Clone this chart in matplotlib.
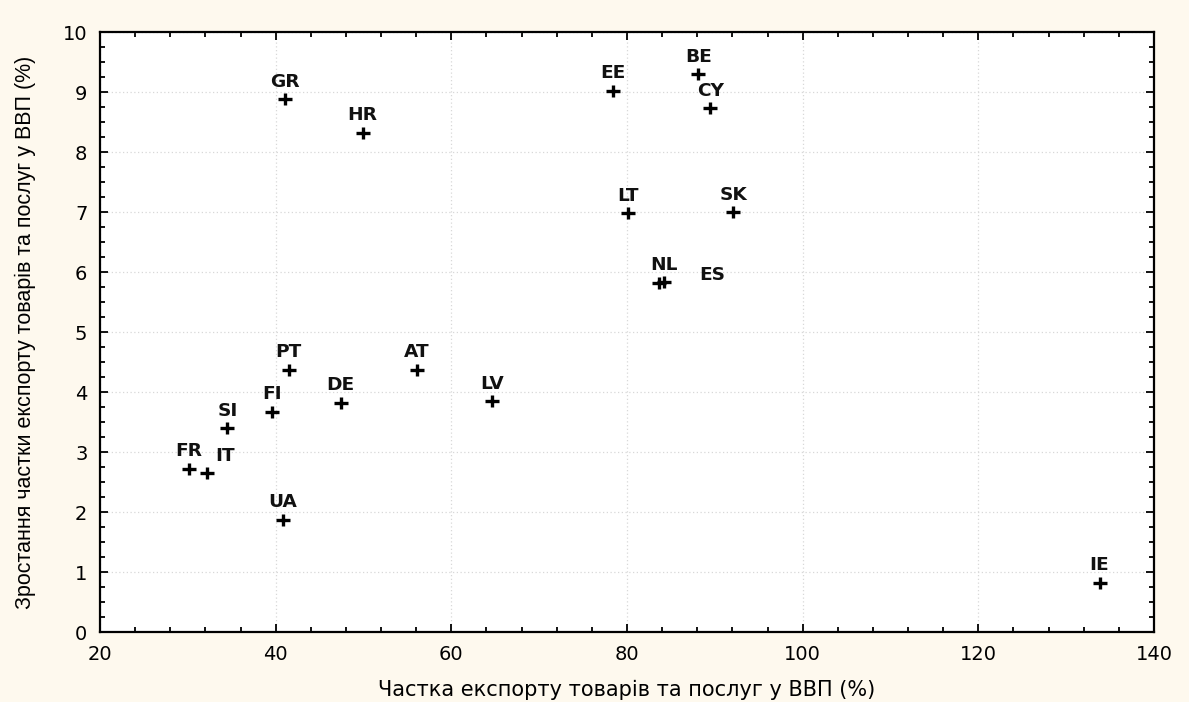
import matplotlib
matplotlib.use("Agg")
import matplotlib.pyplot as plt
from matplotlib.path import Path
from matplotlib.ticker import MultipleLocator

# export share of GDP (%) vs growth of export share (%)
countries = ["GR", "HR", "EE", "BE", "CY", "LT", "SK", "NL", "ES", "PT", "AT",
             "DE", "LV", "FI", "SI", "FR", "IT", "UA", "IE"]
export_share = [41.1, 49.9, 78.4, 88.1, 89.5, 80.1, 92.1, 83.6, 84.2, 41.5, 56.1,
                47.4, 64.6, 39.6, 34.5, 30.1, 32.2, 40.8, 133.8]
share_growth = [8.88, 8.32, 9.02, 9.30, 8.73, 6.98, 7.00, 5.82, 5.83, 4.37, 4.37,
                3.82, 3.85, 3.67, 3.40, 2.72, 2.65, 1.87, 0.82]

# label offsets in points (default: centred above the marker)
label_offset = {"NL": (4, 13), "ES": (35, 5), "IT": (13, 12)}

# plus sign, a bit wider than tall (like the original)
plus = Path([(-1.25, 0), (1.25, 0), (0, -1), (0, 1)],
            [Path.MOVETO, Path.LINETO, Path.MOVETO, Path.LINETO])

bg = "#fef9ee"
fig = plt.figure(figsize=(11.89, 7.02), dpi=100, facecolor=bg)
ax = fig.add_axes([100 / 1189, 70 / 702, 1054 / 1189, 600 / 702])
ax.set_facecolor("white")

ax.scatter(export_share, share_growth, marker=plus, s=115, linewidths=2.4,
           color="black", zorder=3)

for name, x, y in zip(countries, export_share, share_growth):
    dx, dy = label_offset.get(name, (0, 12.5))
    ax.annotate(name, (x, y), xytext=(dx, dy), textcoords="offset points",
                ha="center", va="center", fontsize=13.3, fontweight="bold",
                family="DejaVu Sans", color="#111111")

ax.set_xlim(20, 140)
ax.set_ylim(0, 10)
ax.xaxis.set_major_locator(MultipleLocator(20))
ax.xaxis.set_minor_locator(MultipleLocator(4))
ax.yaxis.set_major_locator(MultipleLocator(1))
ax.yaxis.set_minor_locator(MultipleLocator(0.25))

ax.tick_params(which="both", direction="in", top=True, right=True,
               labelsize=14, labelfontfamily="DejaVu Sans", width=1.3)
ax.tick_params(which="major", length=6, pad=9)
ax.tick_params(which="minor", length=3.5)
ax.grid(True, which="major", linestyle=(0, (1, 2)), color="#d8d8d8", linewidth=0.9)
for s in ax.spines.values():
    s.set_linewidth(1.6)

ax.set_xlabel("Частка експорту товарів та послуг у ВВП (%)", fontsize=15,
              family="DejaVu Sans", labelpad=12)
ax.set_ylabel("Зростання частки експорту товарів та послуг у ВВП (%)", fontsize=15.5,
              family="Liberation Sans", labelpad=19)

fig.savefig("out.png", dpi=100, facecolor=bg)
